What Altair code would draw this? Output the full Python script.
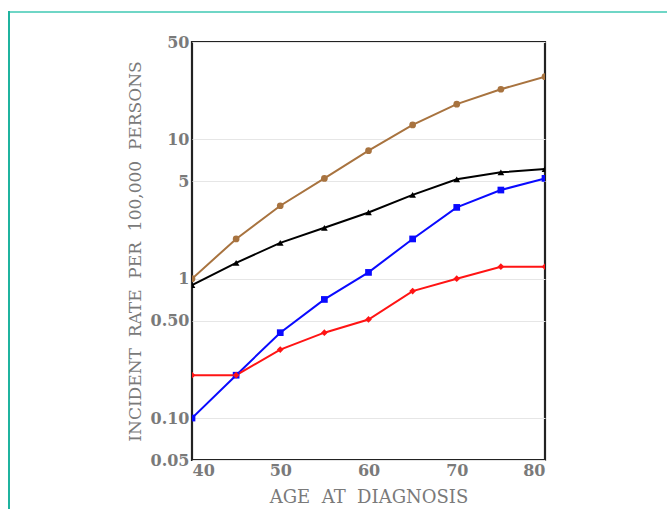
import altair as alt
import pandas as pd

ages = [40, 45, 50, 55, 60, 65, 70, 75, 80]
brown_vals = [1.0, 1.93, 3.34, 5.25, 8.3, 12.7, 17.9, 22.9, 28.2]
black_vals = [0.9, 1.30, 1.81, 2.32, 2.99, 4.0, 5.17, 5.8, 6.13]
blue_vals = [0.10, 0.203, 0.41, 0.71, 1.11, 1.93, 3.25, 4.33, 5.25]
red_vals = [0.203, 0.203, 0.31, 0.41, 0.51, 0.815, 1.0, 1.22, 1.22]

series_names = ["brown", "black", "blue", "red"]
series_colors = ["#a8733f", "#000000", "#0a0aff", "#ff1414"]
series_shapes = ["circle", "triangle-up", "square", "diamond"]

y_ticks = [0.05, 0.1, 0.5, 1, 5, 10, 50]
y_tick_labels = ["0.05", "0.10", "0.50", "1", "5", "10", "50"]
x_ticks = [40, 50, 60, 70, 80]

rows = []
for name, vals in zip(series_names, [brown_vals, black_vals, blue_vals, red_vals]):
    for a, v in zip(ages, vals):
        rows.append({"age": a, "rate": v, "series": name})
df = pd.DataFrame(rows)

label_map = "{" + ",".join(f"'{v}':'{l}'" for v, l in zip(y_ticks, y_tick_labels)) + "}"

font = "DejaVu Serif"
gray = "#7a7a7a"
sp = "\u00a0\u00a0"

x_enc = alt.X("age:Q",
              scale=alt.Scale(domain=[40, 80], nice=False, zero=False),
              axis=alt.Axis(values=x_ticks, grid=False, ticks=False, domain=False,
                            title=sp.join(["AGE", "AT", "DIAGNOSIS"]), labelFont=font, labelFontSize=16,
                            labelFontWeight="bold", labelColor=gray, labelPadding=2,
                            titleFont=font, titleFontSize=18, titleFontWeight="normal",
                            titleColor=gray, titlePadding=10))
y_enc = alt.Y("rate:Q",
              scale=alt.Scale(type="log", domain=[0.05, 50], nice=False),
              axis=alt.Axis(values=y_ticks, grid=True, gridColor="#e6e6e6", ticks=False,
                            domain=False, labelExpr=f"{label_map}[datum.value] || datum.label",
                            labelFont=font, labelFontSize=16, labelFontWeight="bold",
                            labelColor=gray, labelPadding=3,
                            title=sp.join(["INCIDENT", "RATE", "PER", "100,000", "PERSONS"]),
                            titleFont=font, titleFontSize=17, titleFontWeight="normal",
                            titleColor=gray, titlePadding=6))
color_enc = alt.Color("series:N", scale=alt.Scale(domain=series_names, range=series_colors), legend=None)
shape_enc = alt.Shape("series:N", scale=alt.Scale(domain=series_names, range=series_shapes), legend=None)

base = alt.Chart(df)
lines = base.mark_line(strokeWidth=2, clip=True).encode(x=x_enc, y=y_enc, color=color_enc, detail="series:N")
points = base.mark_point(filled=True, size=45, opacity=1, clip=True).encode(
    x="age:Q", y="rate:Q", color=color_enc, shape=shape_enc)

blank = alt.Data(values=[{"k": 1}])
top_rule = alt.Chart(blank).mark_rule(color="#6fd6c6", strokeWidth=2).encode(
    x=alt.value(-183), x2=alt.value(475), y=alt.value(-30), y2=alt.value(-30))
left_rule = alt.Chart(blank).mark_rule(color="#1fb39f", strokeWidth=2).encode(
    x=alt.value(-183), x2=alt.value(-183), y=alt.value(-31), y2=alt.value(470))

chart = alt.layer(top_rule, left_rule, lines, points).properties(
    width=353, height=418,
    autosize=alt.AutoSizeParams(type="none"),
    padding={"left": 192, "top": 42, "right": 122, "bottom": 49},
    background="white",
).configure_view(stroke="#222222", strokeWidth=2.2)

chart.save("out.html", embed_options={"renderer": "svg", "actions": False})
